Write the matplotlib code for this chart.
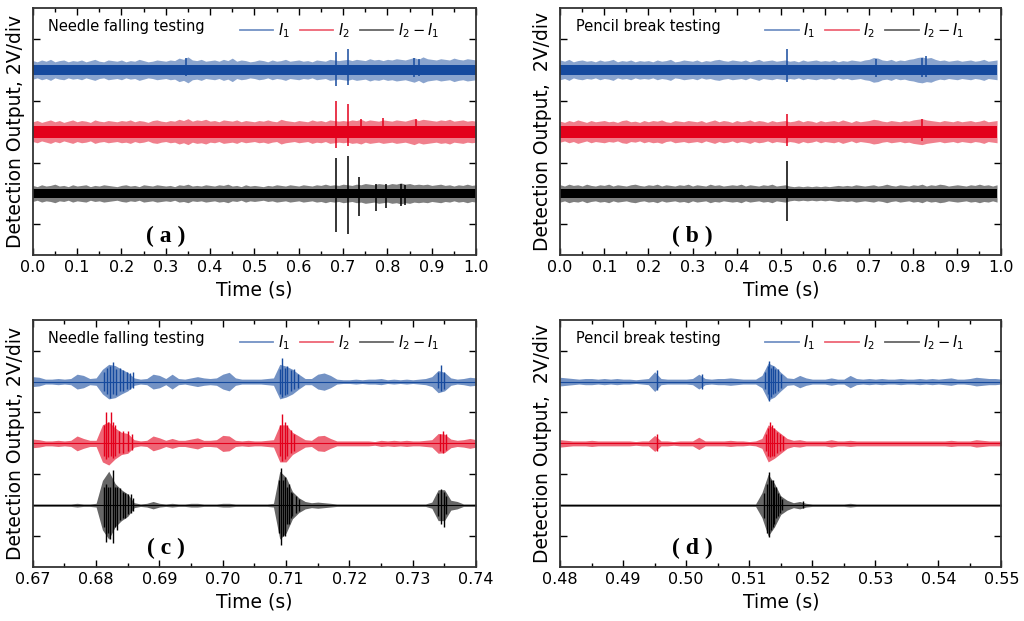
import numpy as np
import matplotlib
matplotlib.use('Agg')
import matplotlib.pyplot as plt
from matplotlib.lines import Line2D
from matplotlib.ticker import MultipleLocator, FormatStrFormatter

plt.rcParams['font.family'] = ['DejaVu Sans']
plt.rcParams['mathtext.fontset'] = 'dejavusans'

c_i1 = '#164a9e'
c_i2 = '#e3001b'
c_df = '#000000'

# trace offsets (div)
base_i1, base_i2, base_df = 2.5, 1.5, 0.5
# half width of the dense noise core in (a)/(b)
core_i1, core_i2, core_df = 0.085, 0.095, 0.075

# ---- (a) needle falling, full record, peak envelope every 10 ms (div)
t_a = np.linspace(0.0, 1.0, 101)
env_a_i1 = [0.15,0.13,0.16,0.14,0.17,0.13,0.15,0.16,0.13,0.15,
            0.14,0.16,0.13,0.15,0.17,0.14,0.13,0.16,0.15,0.14,
            0.16,0.13,0.15,0.14,0.17,0.15,0.13,0.14,0.16,0.15,
            0.14,0.16,0.15,0.19,0.17,0.21,0.16,0.15,0.17,0.14,
            0.15,0.16,0.14,0.17,0.15,0.19,0.14,0.16,0.15,0.13,
            0.14,0.16,0.15,0.13,0.16,0.14,0.15,0.17,0.14,0.15,
            0.16,0.14,0.15,0.13,0.16,0.15,0.14,0.17,0.16,0.15,
            0.16,0.17,0.15,0.17,0.16,0.15,0.18,0.16,0.17,0.15,
            0.17,0.16,0.18,0.17,0.16,0.18,0.20,0.17,0.21,0.18,
            0.17,0.16,0.18,0.17,0.16,0.19,0.17,0.16,0.18,0.17,0.16]
env_a_i2 = [0.16,0.18,0.15,0.17,0.19,0.16,0.18,0.15,0.17,0.19,
            0.16,0.18,0.17,0.15,0.19,0.17,0.16,0.18,0.17,0.16,
            0.18,0.17,0.19,0.16,0.18,0.17,0.15,0.18,0.19,0.17,
            0.16,0.18,0.17,0.20,0.18,0.21,0.17,0.19,0.18,0.20,
            0.17,0.18,0.16,0.19,0.18,0.17,0.19,0.16,0.18,0.17,
            0.16,0.18,0.17,0.19,0.17,0.16,0.20,0.18,0.17,0.16,
            0.18,0.17,0.16,0.19,0.17,0.18,0.16,0.19,0.18,0.17,
            0.18,0.17,0.19,0.18,0.20,0.17,0.19,0.18,0.17,0.19,
            0.18,0.17,0.19,0.18,0.17,0.19,0.21,0.18,0.20,0.19,
            0.18,0.17,0.19,0.18,0.20,0.17,0.18,0.19,0.17,0.18,0.17]
env_a_df = [0.13,0.11,0.14,0.12,0.13,0.15,0.12,0.13,0.11,0.14,
            0.12,0.13,0.14,0.11,0.13,0.12,0.14,0.13,0.12,0.11,
            0.13,0.14,0.12,0.13,0.11,0.14,0.13,0.12,0.14,0.13,
            0.12,0.13,0.11,0.14,0.13,0.15,0.12,0.13,0.12,0.14,
            0.13,0.12,0.14,0.13,0.15,0.12,0.13,0.11,0.14,0.12,
            0.13,0.12,0.11,0.13,0.12,0.14,0.13,0.12,0.14,0.13,
            0.12,0.14,0.13,0.12,0.14,0.13,0.15,0.13,0.14,0.13,
            0.15,0.14,0.13,0.15,0.14,0.16,0.15,0.14,0.16,0.15,
            0.14,0.16,0.15,0.17,0.15,0.16,0.14,0.15,0.14,0.15,
            0.13,0.14,0.15,0.13,0.14,0.12,0.14,0.13,0.15,0.13,0.14]
# isolated spikes: (time, up, down)
spk_a_i1 = [(0.345, 0.20, 0.10), (0.683, 0.29, 0.26), (0.710, 0.33, 0.25),
            (0.860, 0.20, 0.12), (0.870, 0.18, 0.10)]
spk_a_i2 = [(0.683, 0.49, 0.26), (0.710, 0.44, 0.23), (0.740, 0.20, 0.10),
            (0.790, 0.22, 0.10), (0.865, 0.20, 0.10)]
spk_a_df = [(0.683, 0.57, 0.63), (0.710, 0.60, 0.65), (0.735, 0.26, 0.36),
            (0.773, 0.15, 0.29), (0.797, 0.15, 0.23), (0.830, 0.16, 0.20),
            (0.840, 0.14, 0.18)]

# ---- (b) pencil break, full record
t_b = np.linspace(0.0, 0.99, 100)
env_b_i1 = [0.16,0.14,0.17,0.13,0.15,0.16,0.14,0.15,0.13,0.16,
            0.14,0.15,0.17,0.13,0.15,0.14,0.16,0.13,0.15,0.14,
            0.15,0.13,0.16,0.14,0.15,0.17,0.13,0.14,0.16,0.15,
            0.14,0.16,0.13,0.15,0.14,0.16,0.17,0.15,0.14,0.16,
            0.15,0.14,0.16,0.13,0.15,0.17,0.14,0.15,0.16,0.14,
            0.15,0.16,0.14,0.15,0.13,0.16,0.14,0.15,0.16,0.14,
            0.15,0.14,0.16,0.13,0.15,0.14,0.16,0.15,0.14,0.16,
            0.17,0.20,0.19,0.16,0.15,0.17,0.14,0.16,0.15,0.17,
            0.18,0.20,0.21,0.19,0.20,0.17,0.15,0.16,0.14,0.15,
            0.16,0.14,0.15,0.16,0.14,0.15,0.17,0.14,0.15,0.16]
env_b_i2 = [0.17,0.15,0.18,0.16,0.19,0.17,0.15,0.18,0.16,0.17,
            0.18,0.16,0.17,0.15,0.18,0.19,0.16,0.17,0.15,0.18,
            0.16,0.18,0.17,0.19,0.16,0.15,0.18,0.17,0.16,0.18,
            0.17,0.16,0.18,0.15,0.17,0.19,0.16,0.18,0.17,0.15,
            0.18,0.16,0.17,0.19,0.16,0.18,0.17,0.15,0.18,0.16,
            0.17,0.18,0.16,0.17,0.19,0.16,0.18,0.17,0.15,0.18,
            0.16,0.17,0.18,0.16,0.19,0.17,0.15,0.18,0.16,0.17,
            0.18,0.20,0.19,0.17,0.16,0.18,0.17,0.16,0.18,0.17,
            0.19,0.20,0.21,0.19,0.18,0.17,0.16,0.18,0.17,0.16,
            0.18,0.16,0.17,0.18,0.16,0.17,0.19,0.16,0.17,0.18]
env_b_df = [0.14,0.12,0.15,0.13,0.14,0.12,0.15,0.13,0.12,0.14,
            0.13,0.15,0.12,0.14,0.13,0.12,0.14,0.15,0.13,0.12,
            0.14,0.13,0.15,0.12,0.14,0.13,0.12,0.14,0.13,0.15,
            0.12,0.14,0.13,0.12,0.15,0.13,0.14,0.12,0.13,0.14,
            0.13,0.15,0.12,0.14,0.13,0.12,0.14,0.13,0.15,0.12,
            0.13,0.14,0.12,0.11,0.12,0.11,0.12,0.11,0.12,0.11,
            0.12,0.11,0.12,0.13,0.12,0.13,0.12,0.14,0.13,0.12,
            0.13,0.14,0.12,0.13,0.15,0.13,0.12,0.14,0.13,0.12,
            0.14,0.13,0.15,0.12,0.14,0.13,0.15,0.14,0.12,0.13,
            0.14,0.13,0.12,0.14,0.13,0.15,0.13,0.14,0.12,0.14]
spk_b_i1 = [(0.513, 0.34, 0.19), (0.715, 0.18, 0.12), (0.820, 0.20, 0.12),
            (0.830, 0.22, 0.12)]
spk_b_i2 = [(0.513, 0.29, 0.24), (0.820, 0.20, 0.15)]
spk_b_df = [(0.513, 0.53, 0.44)]

# ---- (c) needle falling, zoom 0.67-0.74 s, envelope every 1 ms
t_c = np.linspace(0.670, 0.740, 71)
env_c_i1 = [0.08,0.07,0.04,0.04,0.05,0.04,0.05,0.12,0.10,0.05,
            0.06,0.20,0.28,0.26,0.20,0.15,0.06,0.04,0.05,0.12,
            0.10,0.05,0.12,0.05,0.04,0.06,0.08,0.06,0.05,0.06,
            0.12,0.15,0.06,0.04,0.04,0.04,0.04,0.05,0.06,0.28,
            0.25,0.20,0.12,0.05,0.05,0.12,0.14,0.10,0.04,0.03,
            0.03,0.04,0.03,0.04,0.04,0.05,0.03,0.04,0.03,0.04,
            0.03,0.04,0.05,0.08,0.18,0.15,0.06,0.04,0.05,0.07,
            0.06]
env_c_i2 = [0.07,0.06,0.04,0.04,0.05,0.04,0.05,0.12,0.08,0.05,
            0.05,0.30,0.35,0.25,0.18,0.16,0.06,0.04,0.05,0.12,
            0.09,0.05,0.08,0.05,0.05,0.07,0.09,0.05,0.05,0.06,
            0.13,0.12,0.05,0.04,0.05,0.04,0.04,0.05,0.06,0.30,
            0.30,0.18,0.12,0.06,0.05,0.12,0.13,0.08,0.04,0.04,
            0.04,0.04,0.04,0.04,0.03,0.05,0.04,0.05,0.04,0.05,
            0.04,0.04,0.05,0.06,0.16,0.15,0.07,0.05,0.06,0.08,
            0.06]
env_c_df = [0.02,0.02,0.02,0.02,0.02,0.02,0.02,0.03,0.02,0.02,
            0.03,0.40,0.55,0.35,0.25,0.18,0.04,0.02,0.03,0.06,
            0.03,0.02,0.03,0.02,0.02,0.03,0.03,0.02,0.02,0.02,
            0.03,0.03,0.02,0.02,0.02,0.02,0.02,0.02,0.03,0.55,
            0.45,0.22,0.12,0.06,0.04,0.05,0.04,0.03,0.02,0.02,
            0.02,0.02,0.02,0.02,0.02,0.02,0.02,0.02,0.02,0.02,
            0.02,0.02,0.02,0.05,0.25,0.25,0.08,0.06,0.02,0.02,
            0.02]
spk_c_i1 = [(0.6812, 0.15, 0.15), (0.6817, 0.22, 0.20), (0.6822, 0.25, 0.27),
            (0.6827, 0.32, 0.20), (0.6832, 0.20, 0.22), (0.6837, 0.22, 0.15),
            (0.6843, 0.18, 0.15), (0.6848, 0.15, 0.12), (0.6853, 0.14, 0.12),
            (0.6858, 0.15, 0.10), (0.7090, 0.20, 0.20), (0.7093, 0.38, 0.25),
            (0.7098, 0.22, 0.22), (0.7102, 0.25, 0.20), (0.7107, 0.18, 0.15),
            (0.7113, 0.20, 0.12), (0.7118, 0.12, 0.10), (0.7340, 0.15, 0.10),
            (0.7345, 0.27, 0.16), (0.7350, 0.15, 0.12)]
spk_c_i2 = [(0.6812, 0.30, 0.20), (0.6815, 0.50, 0.25), (0.6819, 0.35, 0.22),
            (0.6823, 0.51, 0.20), (0.6827, 0.35, 0.24), (0.6830, 0.30, 0.20),
            (0.6836, 0.20, 0.15), (0.6842, 0.20, 0.15), (0.6850, 0.20, 0.12),
            (0.6857, 0.15, 0.10), (0.7090, 0.30, 0.20), (0.7094, 0.47, 0.29),
            (0.7098, 0.35, 0.25), (0.7102, 0.30, 0.20), (0.7107, 0.22, 0.15),
            (0.7113, 0.15, 0.12), (0.7343, 0.15, 0.12), (0.7347, 0.20, 0.16),
            (0.7352, 0.15, 0.10)]
spk_c_df = [(0.6812, 0.30, 0.35), (0.6816, 0.35, 0.60), (0.6819, 0.30, 0.45),
            (0.6822, 0.30, 0.55), (0.6827, 0.57, 0.62), (0.6830, 0.30, 0.35),
            (0.6833, 0.30, 0.40), (0.6838, 0.28, 0.24), (0.6842, 0.22, 0.20),
            (0.6845, 0.20, 0.20), (0.6850, 0.18, 0.15), (0.6855, 0.18, 0.12),
            (0.6859, 0.12, 0.10), (0.7089, 0.40, 0.45), (0.7092, 0.60, 0.65),
            (0.7095, 0.40, 0.50), (0.7098, 0.45, 0.50), (0.7101, 0.30, 0.30),
            (0.7104, 0.35, 0.30), (0.7108, 0.22, 0.20), (0.7110, 0.20, 0.18),
            (0.7115, 0.15, 0.12), (0.7120, 0.10, 0.10), (0.7340, 0.20, 0.18),
            (0.7344, 0.27, 0.30), (0.7349, 0.22, 0.35), (0.7353, 0.15, 0.15)]

# ---- (d) pencil break, zoom 0.48-0.55 s
t_d = np.linspace(0.480, 0.550, 71)
env_d_i1 = [0.07,0.06,0.05,0.04,0.05,0.05,0.04,0.05,0.04,0.05,
            0.04,0.04,0.03,0.04,0.05,0.16,0.05,0.04,0.04,0.04,
            0.04,0.05,0.12,0.05,0.04,0.05,0.05,0.06,0.05,0.04,
            0.04,0.04,0.10,0.30,0.25,0.15,0.06,0.05,0.10,0.06,
            0.04,0.04,0.04,0.06,0.04,0.04,0.10,0.05,0.04,0.05,
            0.04,0.05,0.04,0.04,0.05,0.04,0.04,0.05,0.04,0.05,
            0.04,0.05,0.06,0.04,0.04,0.05,0.07,0.06,0.05,0.05,
            0.04]
env_d_i2 = [0.06,0.05,0.04,0.04,0.04,0.05,0.04,0.04,0.04,0.04,
            0.04,0.04,0.03,0.04,0.04,0.13,0.04,0.04,0.03,0.04,
            0.04,0.04,0.10,0.04,0.04,0.04,0.04,0.05,0.04,0.04,
            0.03,0.04,0.08,0.30,0.24,0.16,0.08,0.05,0.06,0.04,
            0.04,0.04,0.04,0.06,0.04,0.04,0.05,0.04,0.04,0.04,
            0.04,0.04,0.04,0.04,0.04,0.04,0.04,0.04,0.04,0.04,
            0.04,0.04,0.05,0.04,0.04,0.04,0.06,0.05,0.04,0.04,
            0.04]
env_d_df = [0.02,0.02,0.02,0.02,0.02,0.02,0.02,0.02,0.02,0.02,
            0.02,0.02,0.02,0.02,0.02,0.02,0.02,0.02,0.02,0.02,
            0.02,0.02,0.02,0.02,0.02,0.02,0.02,0.02,0.02,0.02,
            0.02,0.02,0.20,0.50,0.35,0.15,0.08,0.04,0.06,0.03,
            0.02,0.02,0.02,0.02,0.02,0.02,0.03,0.02,0.02,0.02,
            0.02,0.02,0.02,0.02,0.02,0.02,0.02,0.02,0.02,0.02,
            0.02,0.02,0.02,0.02,0.02,0.02,0.02,0.02,0.02,0.02,
            0.02]
spk_d_i1 = [(0.4953, 0.19, 0.14), (0.5025, 0.12, 0.12), (0.5125, 0.15, 0.12),
            (0.5129, 0.25, 0.20), (0.5131, 0.33, 0.31), (0.5134, 0.22, 0.25),
            (0.5137, 0.25, 0.20), (0.5141, 0.20, 0.18), (0.5145, 0.20, 0.15),
            (0.5150, 0.12, 0.10)]
spk_d_i2 = [(0.4953, 0.15, 0.12), (0.5127, 0.15, 0.12), (0.5130, 0.25, 0.20),
            (0.5133, 0.34, 0.22), (0.5136, 0.30, 0.20), (0.5140, 0.25, 0.20),
            (0.5144, 0.18, 0.15), (0.5148, 0.15, 0.12), (0.5153, 0.12, 0.10)]
spk_d_df = [(0.5124, 0.20, 0.20), (0.5128, 0.35, 0.45), (0.5132, 0.54, 0.51),
            (0.5135, 0.40, 0.40), (0.5137, 0.40, 0.35), (0.5140, 0.30, 0.30),
            (0.5142, 0.30, 0.20), (0.5145, 0.20, 0.18), (0.5148, 0.15, 0.12),
            (0.5152, 0.10, 0.08), (0.5185, 0.06, 0.05)]


def draw_dense(ax, t, env, core, spikes, base, color):
    env = np.asarray(env)
    ax.fill_between(t, base - env, base + env, color=color, lw=0, alpha=0.5)
    ax.fill_between(t, base - core, base + core, color=color, lw=0)
    for ts, up, dn in spikes:
        ax.vlines(ts, base - dn, base + up, color=color, lw=1.1)


def draw_zoom(ax, t, env, spikes, base, color):
    env = np.asarray(env)
    ax.fill_between(t, base - env, base + env, color=color, alpha=0.6, lw=0)
    ax.plot(t, base + 0 * env, color=color, lw=0.8)
    for ts, up, dn in spikes:
        ax.vlines(ts, base - dn, base + up, color=color, lw=1.0)


panels = [
    ('a', 'Needle falling testing', 'Detection Output, 2V/div', t_a,
     (env_a_i1, env_a_i2, env_a_df), (spk_a_i1, spk_a_i2, spk_a_df),
     (0.0, 1.0), 0.1, 0.05, '%.1f'),
    ('b', 'Pencil break testing', 'Detection Output,  2V/div', t_b,
     (env_b_i1, env_b_i2, env_b_df), (spk_b_i1, spk_b_i2, spk_b_df),
     (0.0, 1.0), 0.1, 0.05, '%.1f'),
    ('c', 'Needle falling testing', 'Detection Output, 2V/div', t_c,
     (env_c_i1, env_c_i2, env_c_df), (spk_c_i1, spk_c_i2, spk_c_df),
     (0.67, 0.74), 0.01, 0.005, '%.2f'),
    ('d', 'Pencil break testing', 'Detection Output,  2V/div', t_d,
     (env_d_i1, env_d_i2, env_d_df), (spk_d_i1, spk_d_i2, spk_d_df),
     (0.48, 0.55), 0.01, 0.005, '%.2f'),
]
rects = [[0.032, 0.589, 0.433, 0.398], [0.547, 0.589, 0.431, 0.398],
         [0.032, 0.087, 0.433, 0.398], [0.547, 0.087, 0.431, 0.398]]

fig = plt.figure(figsize=(10.24, 6.21), dpi=100)
for rect, (tag, title, ylab, t, envs, spks, xl, maj, mnr, fmt) in zip(rects, panels):
    ax = fig.add_axes(rect)
    for env, spk, base, col, core in zip(envs, spks, (base_i1, base_i2, base_df),
                                         (c_i1, c_i2, c_df), (core_i1, core_i2, core_df)):
        if tag in 'ab':
            draw_dense(ax, t, env, core, spk, base, col)
        else:
            draw_zoom(ax, t, env, spk, base, col)
    ax.set_xlim(*xl)
    ax.set_ylim(-0.5, 3.5)
    ax.set_yticks([0, 1, 2, 3])
    ax.set_yticklabels([])
    ax.xaxis.set_major_locator(MultipleLocator(maj))
    ax.xaxis.set_minor_locator(MultipleLocator(mnr))
    ax.xaxis.set_major_formatter(FormatStrFormatter(fmt))
    ax.tick_params(which='both', direction='in', top=True, right=True, labelsize=11.5)
    ax.tick_params(which='major', length=5, width=1)
    ax.tick_params(which='minor', length=3, width=1)
    for s in ax.spines.values():
        s.set_linewidth(1.3)
        s.set_color('#333333')
    ax.set_xlabel('Time (s)', fontsize=13.5, labelpad=4)
    ax.set_ylabel(ylab, fontsize=13.5, labelpad=2)
    ax.text(0.035, 0.925, title, transform=ax.transAxes, fontsize=10.5,
            va='center', ha='left')
    ax.text(0.30, 0.075, '( %s )' % tag, transform=ax.transAxes, fontsize=17,
            fontweight='bold', family='Liberation Serif', ha='center', va='center')
    handles = [Line2D([], [], color=c_i1, lw=1.3, alpha=0.6),
               Line2D([], [], color=c_i2, lw=1.3, alpha=0.6),
               Line2D([], [], color=c_df, lw=1.3, alpha=0.6)]
    ax.legend(handles, [r'$I_1$', r'$I_2$', r'$I_2 - I_1$'], loc='upper right',
              bbox_to_anchor=(0.945, 1.0), ncol=3, frameon=False, fontsize=10.5,
              handlelength=2.3, handletextpad=0.3, columnspacing=0.7)

fig.savefig('out.png', dpi=100)
